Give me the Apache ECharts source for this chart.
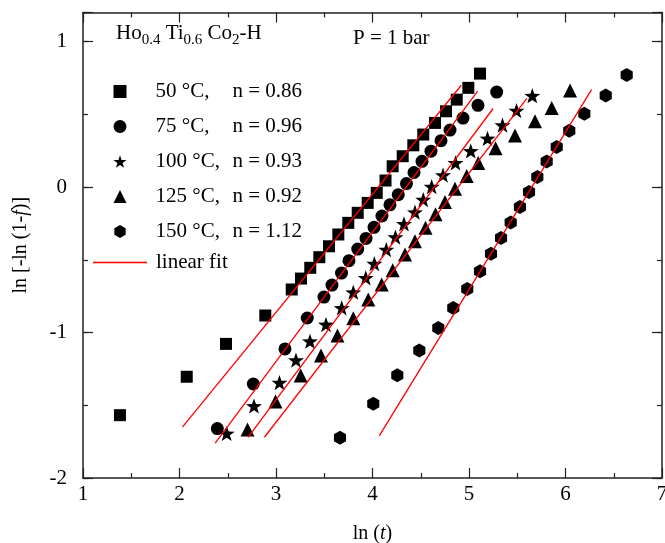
<!DOCTYPE html>
<html>
<head>
<meta charset="utf-8">
<script src="https://cdn.jsdelivr.net/npm/echarts@6/dist/echarts.min.js"></script>
<style>html,body{margin:0;padding:0;background:#fff}#c{width:665px;height:543px}</style>
</head>
<body>
<div id="c"></div>
<script>
// ---------- data ----------
const seriesNames = ['50 °C', '75 °C', '100 °C', '125 °C', '150 °C'];
const nValues = ['0.86', '0.96', '0.93', '0.92', '1.12'];

const x50 = [1.383, 2.075, 2.482, 2.889, 3.163, 3.259, 3.355, 3.449, 3.549, 3.646, 3.749, 3.847, 3.950, 4.044, 4.135, 4.209, 4.313, 4.423, 4.526, 4.648, 4.762, 4.873, 4.993, 5.114];
const y50 = [-1.568, -1.304, -1.078, -0.883, -0.704, -0.629, -0.555, -0.482, -0.407, -0.326, -0.246, -0.177, -0.109, -0.040, 0.045, 0.143, 0.212, 0.287, 0.361, 0.441, 0.521, 0.601, 0.682, 0.780];

const x75 = [2.392, 2.765, 3.093, 3.324, 3.497, 3.580, 3.679, 3.756, 3.847, 3.933, 4.016, 4.098, 4.181, 4.267, 4.352, 4.430, 4.513, 4.606, 4.710, 4.803, 4.938, 5.093, 5.287];
const y75 = [-1.660, -1.354, -1.113, -0.900, -0.756, -0.674, -0.591, -0.506, -0.426, -0.353, -0.277, -0.199, -0.122, -0.052, 0.024, 0.100, 0.177, 0.247, 0.319, 0.392, 0.474, 0.562, 0.653];

const x100 = [2.489, 2.772, 3.036, 3.207, 3.352, 3.518, 3.681, 3.801, 3.930, 4.019, 4.143, 4.238, 4.326, 4.440, 4.526, 4.613, 4.731, 4.860, 5.018, 5.192, 5.347, 5.492, 5.656];
const y100 = [-1.694, -1.505, -1.344, -1.190, -1.060, -0.945, -0.831, -0.723, -0.624, -0.526, -0.430, -0.344, -0.253, -0.173, -0.086, 0.003, 0.082, 0.166, 0.248, 0.334, 0.426, 0.526, 0.628];

const x125 = [2.705, 2.995, 3.256, 3.466, 3.637, 3.801, 3.956, 4.095, 4.209, 4.337, 4.440, 4.549, 4.653, 4.751, 4.855, 4.976, 5.096, 5.275, 5.477, 5.684, 5.857, 6.047];
const y125 = [-1.667, -1.474, -1.296, -1.158, -1.021, -0.901, -0.773, -0.670, -0.572, -0.464, -0.373, -0.280, -0.187, -0.103, -0.012, 0.076, 0.165, 0.266, 0.354, 0.452, 0.544, 0.663];

const x150 = [3.663, 4.008, 4.257, 4.485, 4.682, 4.837, 4.982, 5.114, 5.228, 5.332, 5.432, 5.528, 5.622, 5.708, 5.805, 5.909, 6.039, 6.195, 6.417, 6.634];
const y150 = [-1.724, -1.490, -1.294, -1.124, -0.968, -0.832, -0.701, -0.579, -0.459, -0.350, -0.244, -0.137, -0.034, 0.069, 0.176, 0.275, 0.387, 0.504, 0.630, 0.771];

// linear-fit segment end points
const fitX50 = [2.03, 4.92],  fitY50 = [-1.65, 0.70];
const fitX75 = [2.37, 5.09],  fitY75 = [-1.76, 0.66];
const fitX100 = [2.71, 5.25], fitY100 = [-1.72, 0.54];
const fitX125 = [2.88, 5.60], fitY125 = [-1.72, 0.61];
const fitX150 = [4.07, 6.27], fitY150 = [-1.71, 0.67];

const xTicks = [1, 2, 3, 4, 5, 6, 7];
const yTicks = [-2, -1, 0, 1];

// ---------- chart ----------
const FONT = "'Liberation Serif', 'Times New Roman', serif";
const AX = '#222';
const starPath = 'path://M50 0 L61.76 33.82 L97.55 34.55 L69.02 56.18 L79.39 90.45 L50 70 L20.61 90.45 L30.98 56.18 L2.45 34.55 L38.24 33.82 Z';
const hexPath = 'path://M50 0 L93.3 25 L93.3 75 L50 100 L6.7 75 L6.7 25 Z';
const linePath = 'path://M0 0 H100 V2.4 H0 Z';

const pts = (xs, ys) => xs.map((v, i) => [v, ys[i]]);
const symbols = ['rect', 'circle', starPath, 'triangle', hexPath];
const sizes = [12, 13, 16, 14, 14];
const dataX = [x50, x75, x100, x125, x150];
const dataY = [y50, y75, y100, y125, y150];
const fitXs = [fitX50, fitX75, fitX100, fitX125, fitX150];
const fitYs = [fitY50, fitY75, fitY100, fitY125, fitY150];

const series = [];
seriesNames.forEach((nm, i) => {
  series.push({
    type: 'scatter', name: nm, data: pts(dataX[i], dataY[i]),
    symbol: symbols[i], symbolSize: sizes[i], symbolKeepAspect: true,
    itemStyle: { color: '#000', opacity: 1 }, z: 3
  });
});
fitXs.forEach((fx, i) => {
  series.push({
    type: 'line', name: 'linear fit', data: pts(fx, fitYs[i]),
    symbol: 'none', lineStyle: { color: '#ff0000', width: 1.3 }, itemStyle: { color: '#ff0000' },
    z: 4, silent: true
  });
});

const baseAxis = {
  type: 'value',
  splitLine: { show: false },
  axisLine: { show: true, onZero: false, lineStyle: { color: AX, width: 1.5 } }
};
const textCol = '#000';

const option = {
  animation: false,
  backgroundColor: '#fff',
  grid: { left: 83, right: 3, top: 12.5, bottom: 65, containLabel: false, outerBoundsMode: 'none' },
  xAxis: [
    Object.assign({}, baseAxis, {
      position: 'bottom', min: 1, max: 7, interval: 1,
      axisTick: { show: true, inside: true, length: 10, lineStyle: { color: AX, width: 1.2 } },
      minorTick: { show: true, splitNumber: 2, length: 5, lineStyle: { color: AX, width: 1.2 } },
      axisLabel: { color: textCol, fontSize: 21, fontFamily: FONT, margin: 6,
        customValues: xTicks },
      name: '{n|ln (}{i|t}{n|)}', nameLocation: 'middle', nameGap: 46,
      nameTextStyle: { color: textCol, fontFamily: FONT, fontSize: 20,
        rich: { n: { fontSize: 20, fontFamily: FONT, color: textCol }, i: { fontSize: 20, fontFamily: FONT, fontStyle: 'italic', color: textCol } } }
    }),
    Object.assign({}, baseAxis, {
      position: 'top', min: 1, max: 7, interval: 1,
      axisTick: { show: true, inside: true, length: 10, lineStyle: { color: AX, width: 1.2 } },
      minorTick: { show: true, splitNumber: 2, length: 5, lineStyle: { color: AX, width: 1.2 } },
      axisLabel: { show: false }
    })
  ],
  yAxis: [
    Object.assign({}, baseAxis, {
      position: 'left', min: -2, max: 1.2, interval: 0.5,
      axisTick: { show: true, inside: true, length: 5, lineStyle: { color: AX, width: 1.2 } },
      axisLabel: { color: textCol, fontSize: 21, fontFamily: FONT, margin: 16,
        formatter: v => (yTicks.indexOf(v) >= 0 ? String(v) : '') },
      name: '{n|ln [-ln (1-}{i|f}{n|)]}', nameLocation: 'middle', nameGap: 52,
      nameTextStyle: { color: textCol, fontFamily: FONT, fontSize: 20,
        rich: { n: { fontSize: 20, fontFamily: FONT, color: textCol }, i: { fontSize: 20, fontFamily: FONT, fontStyle: 'italic', color: textCol } } }
    }),
    Object.assign({}, baseAxis, {
      position: 'left', min: -2, max: 1.2, interval: 1,
      axisLine: { show: false },
      axisTick: { show: true, inside: true, length: 10, lineStyle: { color: AX, width: 1.2 } },
      axisLabel: { show: false }
    }),
    Object.assign({}, baseAxis, {
      position: 'right', min: -2, max: 1.2, interval: 0.5,
      axisTick: { show: true, inside: true, length: 5, lineStyle: { color: AX, width: 1.2 } },
      axisLabel: { show: false }
    }),
    Object.assign({}, baseAxis, {
      position: 'right', min: -2, max: 1.2, interval: 1,
      axisLine: { show: false },
      axisTick: { show: true, inside: true, length: 10, lineStyle: { color: AX, width: 1.2 } },
      axisLabel: { show: false }
    })
  ],
  legend: [
    {
      data: seriesNames,
      orient: 'vertical', left: 113.5, top: 81, padding: 0,
      itemWidth: 13, itemHeight: 13, itemGap: 14, selectedMode: false,
      formatter: name => '{a|' + name + ',}{b|n = ' + nValues[seriesNames.indexOf(name)] + '}',
      textStyle: { color: textCol, fontFamily: FONT, fontSize: 21, padding: [0, 0, 0, 24],
        rich: { a: { width: 77, fontSize: 21, fontFamily: FONT, color: textCol }, b: { fontSize: 21, fontFamily: FONT, color: textCol } } }
    },
    {
      data: [{ name: 'linear fit', icon: linePath }], orient: 'vertical', left: 93, top: 252, padding: 0,
      itemWidth: 54, itemHeight: 14, selectedMode: false, symbolKeepAspect: true,
      itemStyle: { color: '#ff0000' },
      textStyle: { color: textCol, fontFamily: FONT, fontSize: 21, padding: [0, 0, 0, 4] }
    }
  ],
  graphic: [
    {
      type: 'text', left: 116, top: 23,
      style: {
        text: '{n|Ho}{s|0.4}{n| Ti}{s|0.6}{n| Co}{s|2}{n|-H}',
        rich: {
          n: { fontSize: 21, fontFamily: FONT, fill: textCol, lineHeight: 28 },
          s: { fontSize: 15, fontFamily: FONT, fill: textCol, lineHeight: 15, verticalAlign: 'bottom' }
        }
      }
    },
    {
      type: 'text', left: 353, top: 28,
      style: { text: 'P = 1 bar', fontSize: 21, fontFamily: FONT, fill: textCol }
    }
  ],
  series: series
};

const chart = echarts.init(document.getElementById('c'), null, { renderer: 'canvas' });
chart.setOption(option);
</script>
</body>
</html>
